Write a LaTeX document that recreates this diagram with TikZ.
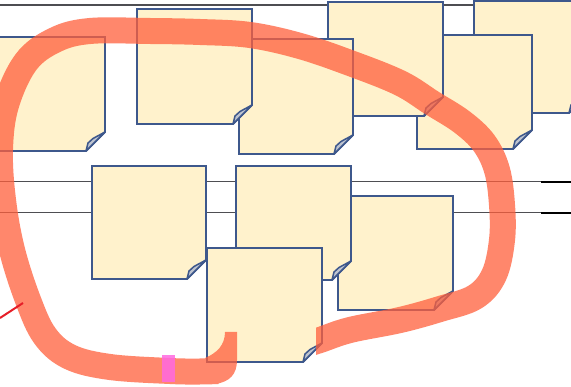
\documentclass[tikz,border=0pt]{standalone}
\definecolor{notefill}{RGB}{255,242,204}
\definecolor{noteedge}{RGB}{62,88,140}
\definecolor{foldfill}{RGB}{190,196,208}
\definecolor{wire}{RGB}{78,78,82}
\definecolor{pen}{RGB}{255,95,60}
\definecolor{marker}{RGB}{255,105,225}
\definecolor{redpen}{RGB}{230,30,40}
\tikzset{
  notebody/.style={fill=notefill, draw=noteedge, line width=1.8pt, line join=miter},
  noteflap/.style={fill=foldfill, draw=noteedge, line width=1.5pt, line join=round},
  wireline/.style={draw=wire, line width=1.6pt},
  penstroke/.style={draw=pen, line cap=butt, line join=round},
}
\newcommand\stickynote[4]{%
  \path[notebody] (#1,#2) -- (#3,#2) -- (#3,#4-19) -- (#3-19,#4) -- (#1,#4) -- cycle;
  \path[noteflap] (#3-19,#4) -- (#3-17,#4-8) -- (#3-12,#4-12.5) -- (#3,#4-19) -- cycle;
}
\begin{document}
\begin{tikzpicture}[x=1pt,y=-1pt]
\useasboundingbox (0,0) rectangle (571,387);
\clip (0,0) rectangle (571,387);
\fill[white] (0,0) rectangle (571,387);
% wires
\draw[wireline] (0,5) -- (571,5);
\draw[wireline] (0,181.5) -- (541,181.5);
\draw[wireline] (0,212.5) -- (541,212.5);
\draw[black, line width=1.9pt] (541,182) -- (571,182);
\draw[black, line width=1.9pt] (541,213) -- (571,213);
% top row of notes
\stickynote{474}{1}{588}{113}
\stickynote{417}{35}{532}{149}
\stickynote{328}{2}{443}{116}
\stickynote{239}{39}{353}{154}
\stickynote{137}{9}{252}{124}
\stickynote{-10}{37}{105}{151}
% middle row of notes
\stickynote{338}{196}{453}{310}
\stickynote{236}{166}{351}{280}
\stickynote{207}{248}{322}{362}
\stickynote{92}{166}{206}{279}
% hand-drawn loop
\begin{scope}[transparency group, opacity=0.75]
\clip (0,0) rectangle (290,387) (290,0) rectangle (571,318)
      (316,318) rectangle (571,387) (290,366) rectangle (316,387);
\fill[pen] (225,332) -- (237,332) -- (237,360)
  .. controls (237,374) and (230,382) .. (215,384) -- (205,358)
  .. controls (217,353) and (225,345) .. (225,332) -- cycle;
\draw[penstroke, line width=26pt] plot[smooth, tension=0.6] coordinates {
  (218,371) (200,371.5) (170,371) (110,367) (70,357) (45,336)
  (28,300) (12,250) (3,200) (0,150) (6,105) (26,62) (55,40) (90,31)
  (150,31) (200,32) (250,35) (300,46) (350,63) (400,83) (432,103)
  (462,122) (484,143) (497,170) (502,205) (502,240) (494,275) (475,297)
  (440,309) (400,320) (350,330) (320,340) (304,345)};
\end{scope}
% pink marker
\fill[marker, opacity=0.85] (162,355) rectangle (175,382);
% red pen tick
\draw[redpen, line width=2pt] (0,318) -- (23,303);
\end{tikzpicture}
\end{document}
